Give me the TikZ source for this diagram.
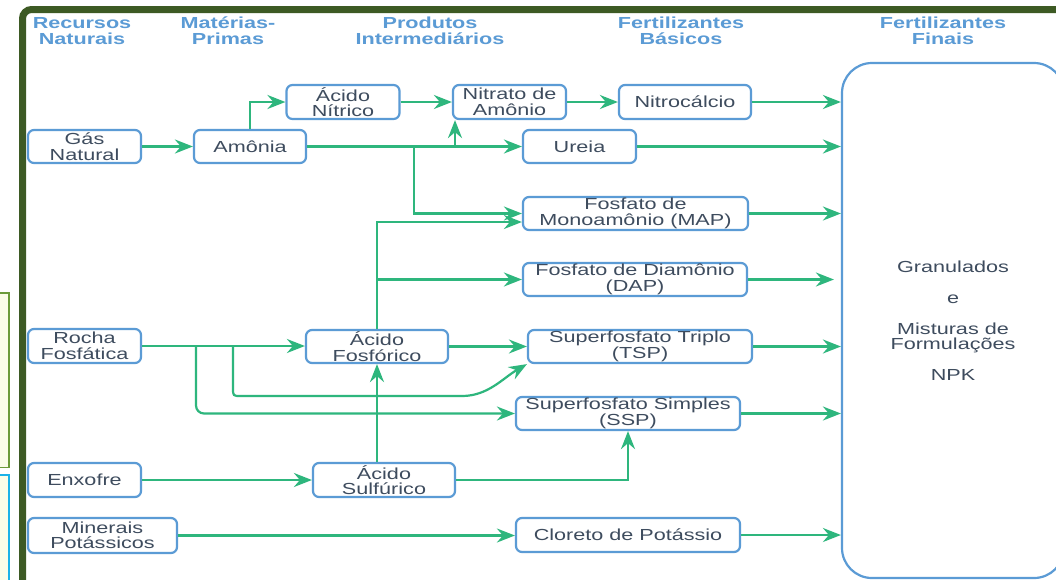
\documentclass[tikz,border=0pt]{standalone}
\usepackage{fontspec}
\setmainfont{Liberation Sans}[FakeStretch=1.35]
\usetikzlibrary{arrows.meta,calc}
\definecolor{frameg}{HTML}{3D5A24}
\definecolor{boxblue}{HTML}{5B9BD5}
\definecolor{hdrblue}{HTML}{5B9BD5}
\definecolor{txt}{HTML}{3E4C5E}
\definecolor{agreen}{HTML}{2EB67D}
\definecolor{lgreen}{HTML}{6B9B3A}
\definecolor{lyellow}{HTML}{FAFDE8}
\definecolor{cyanb}{HTML}{1AB2E8}
\tikzset{
  box/.style={draw=boxblue, line width=2.2pt, rounded corners=6pt, fill=white, text=txt,
    align=center, inner sep=0pt, font=\fontsize{16}{15.5}\selectfont},
  hdr/.style={text=hdrblue, align=center, inner sep=0pt, font=\bfseries\fontsize{16}{16}\selectfont},
  arr/.style={draw=agreen, line width=2.2pt, -{Stealth[length=18pt,width=14pt,inset=6pt]}},
  frm/.style={draw=frameg, line width=7pt, rounded corners=9pt},
}
\begin{document}
\begin{tikzpicture}[x=1pt,y=-1pt]
\useasboundingbox (0,0) rectangle (1056,579);
\clip (0,0) rectangle (1056,579);
\fill[white] (0,0) rectangle (1056,579);
% side panels at left edge
\draw[draw=lgreen, fill=lyellow, line width=1.2pt] (-20,293) rectangle (9,467.5);
\draw[draw=cyanb, fill=lyellow, line width=1.2pt] (-20,475) rectangle (9,620);
% frame
\draw[frm] (22.5,9.5) rectangle (1130,650);
% headers
\node[hdr] (h1) at (82,31) {Recursos\\Naturais};
\node[hdr] (h2) at (228,31) {Matérias-\\Primas};
\node[hdr] (h3) at (430,31) {Produtos\\Intermediários};
\node[hdr] (h4) at (681,31) {Fertilizantes\\Básicos};
\node[hdr] (h5) at (943,31) {Fertilizantes\\Finais};
% boxes
\node[box, minimum width=113pt, minimum height=33pt] (gas) at (84.5,146.5) {Gás\\Natural};
\node[box, minimum width=112pt, minimum height=33pt] (amonia) at (250,146.5) {Amônia};
\node[box, minimum width=113pt, minimum height=34pt] (nitrico) at (343,102) {Ácido\\Nítrico};
\node[box, minimum width=113pt, minimum height=34pt] (nitrato) at (509.5,102) {Nitrato de\\Amônio};
\node[box, minimum width=132pt, minimum height=34pt] (nitrocalcio) at (685,102) {Nitrocálcio};
\node[box, minimum width=113pt, minimum height=33pt] (ureia) at (579.5,146.5) {Ureia};
\node[box, minimum width=225pt, minimum height=33pt] (map) at (635.5,213.5) {Fosfato de\\Monoamônio (MAP)};
\node[box, minimum width=224pt, minimum height=33pt] (dap) at (635,279.5) {Fosfato de Diamônio\\(DAP)};
\node[box, minimum width=224pt, minimum height=33pt] (tsp) at (640,346.5) {Superfosfato Triplo\\(TSP)};
\node[box, minimum width=224pt, minimum height=33pt] (ssp) at (628,413.5) {Superfosfato Simples\\(SSP)};
\node[box, minimum width=224pt, minimum height=34pt] (kcl) at (628,535) {Cloreto de Potássio};
\node[box, minimum width=142pt, minimum height=33pt] (fosforico) at (377,346.5) {Ácido\\Fosfórico};
\node[box, minimum width=142pt, minimum height=34pt] (sulfurico) at (384,480) {Ácido\\Sulfúrico};
\node[box, minimum width=113pt, minimum height=34pt] (rocha) at (84.5,346) {Rocha\\Fosfática};
\node[box, minimum width=113pt, minimum height=34pt] (enxofre) at (84.5,480) {Enxofre};
\node[box, minimum width=149pt, minimum height=35pt] (minerais) at (102.5,535.5) {Minerais\\Potássicos};
\node[box, rounded corners=30pt, minimum width=222pt, minimum height=515pt] (final) at (953,320.5)
  {Granulados\\[15.5pt] e\\[15.5pt] Misturas de\\Formulações\\[15.5pt] NPK};
% junction coordinates
\coordinate (j1) at (455,146.5);
\coordinate (j2) at (414,146.5);
\coordinate (j3) at (377,279.5);
\coordinate (j4) at (196,346);
\coordinate (j5) at (233,346);
% connectors
\draw[arr] (gas.east) -- (amonia.west);
\draw[arr] (amonia.north) |- (nitrico.west);
\draw[arr] (nitrico.east) -- (nitrato.west);
\draw[arr] (nitrato.east) -- (nitrocalcio.west);
\draw[arr] (amonia.east) -- (ureia.west);
\draw[arr] (j1) -- (j1 |- nitrato.south);
\draw[arr] (j2) |- (map.west);
\draw[arr] (fosforico.north) |- ([yshift=-8.5pt]map.west);
\draw[arr] (j3) -- (dap.west);
\draw[arr] (fosforico.east) -- (tsp.west);
\draw[arr] (rocha.east) -- (rocha.east -| fosforico.west);
\draw[arr, rounded corners=8pt] (j4) |- (ssp.west);
\draw[arr] (j5) -- (233,388) .. controls (233,396) .. (241,396) -- (462,396)
  .. controls (488,396) and (503,378) .. (tsp.south west);
\draw[arr] (enxofre.east) -- (sulfurico.west);
\draw[arr] (sulfurico.north -| fosforico.south) -- (fosforico.south);
\draw[arr] (sulfurico.east) -| (ssp.south);
\draw[arr] (minerais.east) -- (minerais.east -| kcl.west);
% outputs
\draw[arr] (nitrocalcio.east) -- (nitrocalcio.east -| final.west);
\draw[arr] (ureia.east) -- (ureia.east -| final.west);
\draw[arr] (map.east) -- (map.east -| final.west);
\draw[arr] (dap.east) -- ([xshift=-7pt]dap.east -| final.west);
\draw[arr] (tsp.east) -- (tsp.east -| final.west);
\draw[arr] (ssp.east) -- (ssp.east -| final.west);
\draw[arr] (kcl.east) -- (kcl.east -| final.west);
\end{tikzpicture}
\end{document}
